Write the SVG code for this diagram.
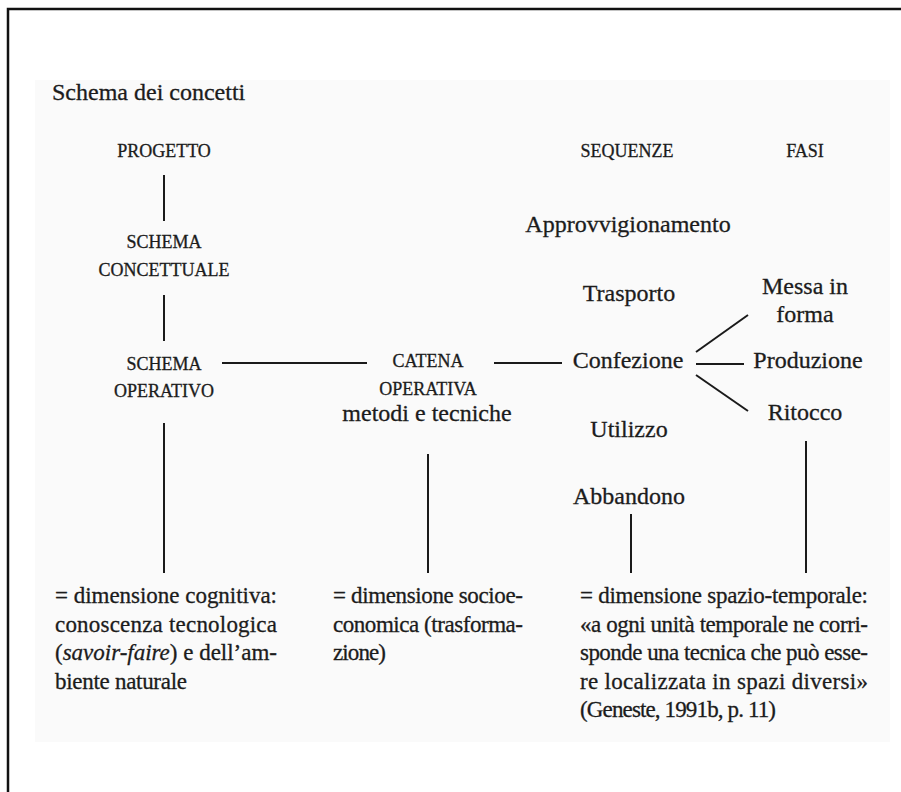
<svg xmlns="http://www.w3.org/2000/svg" width="901" height="792" viewBox="0 0 901 792">
  <style>
    text { font-family: "Liberation Serif", "DejaVu Serif", serif; fill: #1c1c1c; stroke: #1c1c1c; stroke-width: 0.3px; }
    .title { font-size: 24px; }
    .sc { font-size: 18px; text-anchor: middle; }
    .lbl { font-size: 24px; text-anchor: middle; }
    .body { font-size: 23px; }
    .conn line { stroke: #1a1a1a; stroke-width: 2; stroke-linecap: butt; }
    .frame { stroke: #111; stroke-width: 2.5; fill: none; }
  </style>
  <rect x="0" y="0" width="901" height="792" fill="#ffffff"/>
  <rect x="35" y="80" width="855" height="662" fill="#fafafa"/>
  <path class="frame" d="M8,792 L8,9 L901,9"/>

  <text class="title" x="52" y="100">Schema dei concetti</text>

  <g id="progetto"><text class="sc" x="164" y="157">PROGETTO</text></g>
  <g id="schema-concettuale">
    <text class="sc" x="164" y="248">SCHEMA</text>
    <text class="sc" x="164" y="276">CONCETTUALE</text>
  </g>
  <g id="schema-operativo">
    <text class="sc" x="164" y="370">SCHEMA</text>
    <text class="sc" x="164" y="397">OPERATIVO</text>
  </g>
  <g id="catena-operativa">
    <text class="sc" x="428" y="367">CATENA</text>
    <text class="sc" x="428" y="395">OPERATIVA</text>
    <text class="lbl" x="427" y="421">metodi e tecniche</text>
  </g>
  <g id="sequenze"><text class="sc" x="627" y="157">SEQUENZE</text></g>
  <g id="fasi"><text class="sc" x="805" y="157">FASI</text></g>
  <g id="approvvigionamento"><text class="lbl" x="628" y="232">Approvvigionamento</text></g>
  <g id="trasporto"><text class="lbl" x="629" y="301">Trasporto</text></g>
  <g id="confezione"><text class="lbl" x="628" y="368">Confezione</text></g>
  <g id="utilizzo"><text class="lbl" x="629" y="437">Utilizzo</text></g>
  <g id="abbandono"><text class="lbl" x="629" y="504">Abbandono</text></g>
  <g id="messa-in-forma">
    <text class="lbl" x="805" y="294">Messa in</text>
    <text class="lbl" x="805" y="322">forma</text>
  </g>
  <g id="produzione"><text class="lbl" x="808" y="368">Produzione</text></g>
  <g id="ritocco"><text class="lbl" x="805" y="420">Ritocco</text></g>

  <g id="dim-cognitiva">
    <text class="body" x="55" y="603" textLength="222" lengthAdjust="spacing">= dimensione cognitiva:</text>
    <text class="body" x="55" y="631.5" textLength="222" lengthAdjust="spacing">conoscenza  tecnologica</text>
    <text class="body" x="55" y="660" textLength="222" lengthAdjust="spacing">(<tspan font-style="italic">savoir-faire</tspan>)  e  dell’am-</text>
    <text class="body" x="55" y="688.5" textLength="132" lengthAdjust="spacing">biente naturale</text>
  </g>
  <g id="dim-socioeconomica">
    <text class="body" x="333" y="603" textLength="190" lengthAdjust="spacing">= dimensione socioe-</text>
    <text class="body" x="333" y="631.5" textLength="190" lengthAdjust="spacing">conomica (trasforma-</text>
    <text class="body" x="333" y="660" textLength="53" lengthAdjust="spacing">zione)</text>
  </g>
  <g id="dim-spazio-temporale">
    <text class="body" x="580" y="603" textLength="288" lengthAdjust="spacing">= dimensione spazio-temporale:</text>
    <text class="body" x="580" y="631.5" textLength="288" lengthAdjust="spacing">«a ogni unità temporale ne corri-</text>
    <text class="body" x="580" y="660" textLength="288" lengthAdjust="spacing">sponde una tecnica che può esse-</text>
    <text class="body" x="580" y="688.5" textLength="288" lengthAdjust="spacing">re  localizzata  in  spazi  diversi»</text>
    <text class="body" x="580" y="717" textLength="196" lengthAdjust="spacing">(Geneste, 1991b, p. 11)</text>
  </g>

  <g id="connectors" class="conn">
    <line x1="164" y1="175" x2="164" y2="221"/>
    <line x1="164" y1="295" x2="164" y2="341"/>
    <line x1="222" y1="363" x2="367" y2="363"/>
    <line x1="494" y1="363" x2="562" y2="363"/>
    <line x1="164" y1="423" x2="164" y2="573"/>
    <line x1="428" y1="454" x2="428" y2="573"/>
    <line x1="696" y1="352" x2="748" y2="315"/>
    <line x1="696" y1="364" x2="744" y2="364"/>
    <line x1="696" y1="375" x2="748" y2="411"/>
    <line x1="631" y1="514" x2="631" y2="573"/>
    <line x1="806" y1="441" x2="806" y2="573"/>
  </g>
</svg>
